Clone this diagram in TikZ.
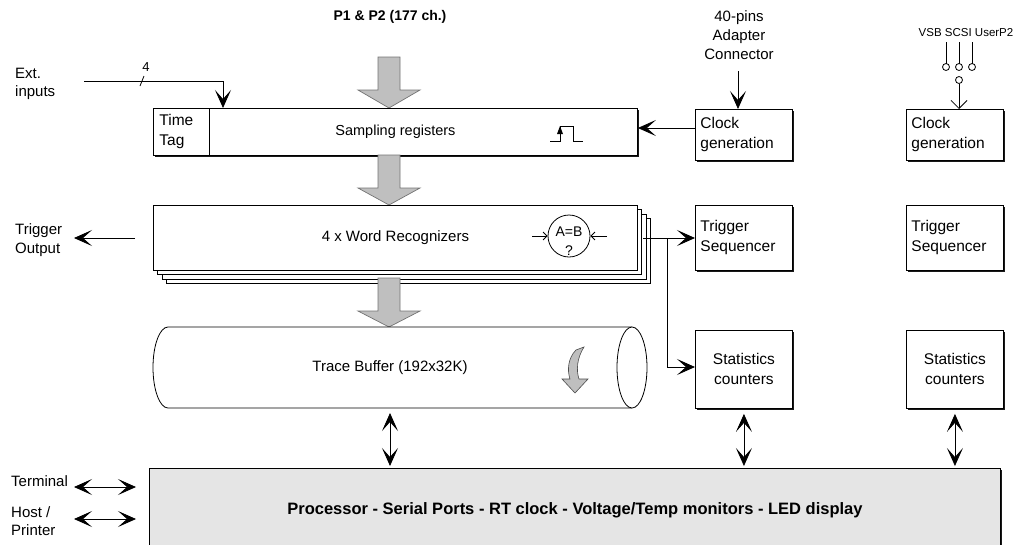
\documentclass[tikz,border=0pt]{standalone}
\usepackage{fontspec}
\setmainfont{Liberation Sans}
\usetikzlibrary{arrows.meta,shadows,calc}

% thick grey "data path" arrow pointing down: centre x, shaft top, head start, tip
\newcommand\fatdown[4]{%
  \draw[fat] (#1-11,#2) -- (#1+11,#2) -- (#1+11,#3) -- (#1+31,#3)
    -- (#1,#4) -- (#1-31,#3) -- (#1-11,#3) -- cycle;}

\tikzset{
  blk/.tip={Stealth[length=18pt,width=16pt,inset=9pt]},
  vb/.tip={Straight Barb[length=8pt,width=16pt]},
  sb/.tip={Straight Barb[length=4pt,width=8pt]},
  wire/.style={line width=0.8pt},
  plain/.style={draw, fill=white, line width=0.9pt, inner sep=0pt, anchor=north west,
    font=\fontsize{15}{20}\selectfont},
  unit/.style={plain, drop shadow={shadow xshift=1.6pt, shadow yshift=-1.6pt,
    fill=black, opacity=0.9}},
  small/.style={font=\fontsize{15.5}{20}\selectfont},
  leftbox/.style={unit, small, text width=#1, align=left, inner xsep=5pt},
  txt/.style={inner sep=0pt, font=\fontsize{15}{18.5}\selectfont, align=left},
  fat/.style={fill=gray!50, draw=black!55, line width=0.7pt},
}

\begin{document}
\begin{tikzpicture}[x=1pt,y=-1pt]
\useasboundingbox (0,0) rectangle (1026,544);

% ---------- headings and external labels ----------
\node[txt, font=\fontsize{14}{18}\selectfont\bfseries] (p12) at (390,17) {P1 \& P2 (177 ch.)};
\node[txt, anchor=west] (ext) at (15,84) {Ext.\\inputs};
\node[txt, anchor=west] (trigout) at (15,240) {Trigger\\Output};
\node[txt, anchor=west] (term) at (11,481) {Terminal};
\node[txt, anchor=west] (host) at (11,521) {Host /\\Printer};
\node[txt, align=center, font=\fontsize{15}{19}\selectfont] (pins) at (739,35) {40-pins\\Adapter\\Connector};
\node[txt, font=\fontsize{11.5}{14}\selectfont] (vsb) at (966,33) {VSB SCSI UserP2};

% ---------- sampling stage ----------
\fatdown{389}{57}{90}{108}
\node[unit, minimum width=484pt, minimum height=47pt, font=\fontsize{14.5}{18}\selectfont] (samp) at (153,108) {Sampling registers};
\node[plain, small, text width=44pt, align=left, inner xsep=6pt, minimum height=47pt] (ttag) at (153,108) {Time\\Tag};
% clock pulse symbol
\draw[wire] (550,141) -- (560,141) -- (560,126) -- (573,126) -- (573,141) -- (583,141);
\fill (560,126) -- (563,134) -- (557,134) -- cycle;

\node[leftbox=87pt, minimum height=51pt] (clk1) at (695,109) {Clock\\generation};
\node[leftbox=87pt, minimum height=51pt] (clk2) at (906,109) {Clock\\generation};

% ---------- word recognizers ----------
\fatdown{389}{155}{188}{205}
\foreach \k in {3,2,1}
  \draw[wire, fill=white] (153+4.6*\k,205+4.6*\k) rectangle (637+4.6*\k,270+4.6*\k);
\node[plain, minimum width=484pt, minimum height=65pt] (wr) at (153,205) {4 x Word Recognizers};
\node[draw, circle, wire, minimum size=42pt, inner sep=0pt] (cmp) at (569,236) {};
\node[txt, font=\fontsize{14}{16}\selectfont] (eq) at (569,232) {A=B};
\node[txt, font=\fontsize{14}{16}\selectfont] (qm) at (569,251) {?};

\node[leftbox=87pt, minimum height=65pt] (trig1) at (695,205) {Trigger\\Sequencer};
\node[leftbox=87pt, minimum height=65pt] (trig2) at (906,205) {Trigger\\Sequencer};

% ---------- trace buffer ----------
\fatdown{389}{278}{311}{327}
\draw[wire, fill=white] (632,327) -- (168,327)
  arc[start angle=270, end angle=90, x radius=15, y radius=40.5] -- (632,408);
\draw[wire, fill=white] (632,367.5) ellipse[x radius=15, y radius=40.5];
\node[txt] (buf) at (390,368) {Trace Buffer (192x32K)};
% circulating-memory arrow
\draw[fill=gray!50, draw=black!70, line width=0.6pt]
  (576,350) .. controls (568,358) and (567,370) .. (570,379)
  -- (562,379) -- (575,393) -- (588,379) -- (579,379)
  .. controls (576,370) and (577,358) .. (584,347) -- cycle;

\node[unit, small, text width=87pt, align=center, inner xsep=5pt, minimum height=78pt] (stat1) at (695,330) {Statistics\\counters};
\node[unit, small, text width=87pt, align=center, inner xsep=5pt, minimum height=78pt] (stat2) at (906,330) {Statistics\\counters};

% ---------- processor ----------
\node[unit, fill=gray!20, minimum width=851pt, minimum height=84pt,
  font=\fontsize{16.5}{20}\selectfont\bfseries] (proc) at (149,468)
  {Processor - Serial Ports - RT clock - Voltage/Temp monitors - LED display};

% ---------- connectors ----------
\coordinate (extin) at (84,81);
\coordinate (ttin) at (223,108);
\draw[wire, -blk] (extin) -| (ttin);
\draw[wire] (140,86) -- (144,76);
\node[txt, font=\fontsize{13}{14}\selectfont] (four) at (146,67) {4};

\draw[wire, -blk] (clk1.west |- 0,128) -- (samp.east |- 0,128);
\draw[wire, -blk] (738,71) -- (738,109);

% input selector for the second clock generator
\foreach \cx in {946,959,972}{
  \draw[wire] (\cx,42) -- (\cx,63.5);
  \draw[wire] (\cx,67) circle[radius=3.5];
}
\node[draw, circle, wire, minimum size=7pt, inner sep=0pt] (sel) at (959,80) {};
\draw[wire, -vb] (sel.south) -- (sel.south |- clk2.north);

\coordinate (tostart) at (135,238);
\coordinate (toend) at (74,238);
\draw[wire, -blk] (tostart) -- (toend);
\draw[wire, -sb] (532,236) -- (cmp.west);
\draw[wire, -sb] (607,236) -- (cmp.east);

\coordinate (wrout) at (643,238);
\coordinate (branch) at (667,238);
\draw[wire, -blk] (wrout) -- (trig1.west |- wrout);
\draw[wire, -blk] (branch) |- (stat1.west |- 0,367);

\coordinate (bufbot) at (390,408);
\draw[wire, blk-blk, shorten <=5pt, shorten >=2pt] (bufbot) -- (bufbot |- proc.north);
\draw[wire, blk-blk, shorten <=5pt, shorten >=2pt] (stat1.south) -- (stat1.south |- proc.north);
\draw[wire, blk-blk, shorten <=5pt, shorten >=2pt] (stat2.south) -- (stat2.south |- proc.north);

\coordinate (terma) at (74,487);
\coordinate (termb) at (136,487);
\coordinate (hosta) at (74,519);
\coordinate (hostb) at (136,519);
\draw[wire, blk-blk] (terma) -- (termb);
\draw[wire, blk-blk] (hosta) -- (hostb);
\end{tikzpicture}
\end{document}
